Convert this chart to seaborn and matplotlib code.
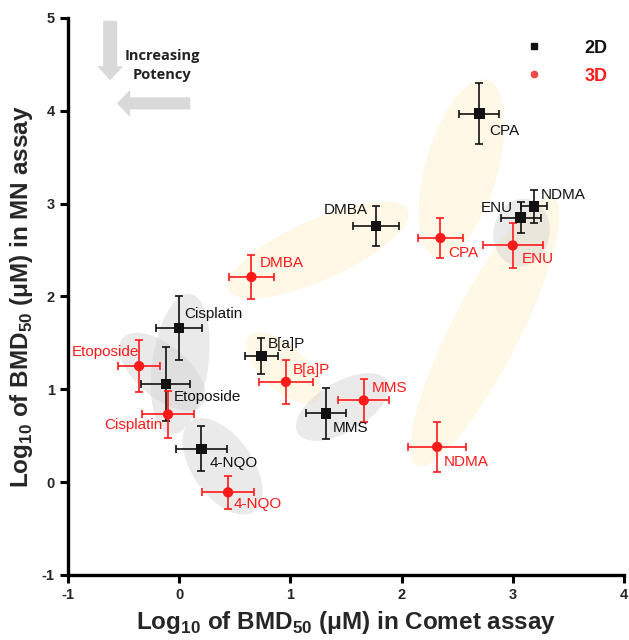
import numpy as np
import pandas as pd
import matplotlib
matplotlib.use("Agg")
import matplotlib.pyplot as plt
from matplotlib.lines import Line2D
from matplotlib.patches import FancyArrow
import seaborn as sns

# log10 BMD50 values (uM), comet (x) vs micronucleus (y)
compounds = ["CPA", "DMBA", "ENU", "NDMA", "Cisplatin", "Etoposide", "4-NQO", "B[a]P", "MMS"]

comet_2d = [2.70, 1.77, 3.07, 3.19, 0.00, -0.12, 0.20, 0.74, 1.32]
comet_2d_err = [0.18, 0.21, 0.18, 0.12, 0.21, 0.22, 0.23, 0.15, 0.18]
mn_2d = [3.97, 2.76, 2.85, 2.97, 1.66, 1.06, 0.36, 1.36, 0.74]
mn_2d_err = [0.33, 0.22, 0.17, 0.18, 0.34, 0.40, 0.24, 0.19, 0.27]

comet_3d = [2.35, 0.65, 3.00, 2.32, -0.10, -0.36, 0.44, 0.96, 1.66]
comet_3d_err = [0.20, 0.20, 0.27, 0.26, 0.23, 0.19, 0.23, 0.24, 0.23]
mn_3d = [2.63, 2.21, 2.55, 0.38, 0.73, 1.25, -0.11, 1.08, 0.88]
mn_3d_err = [0.22, 0.24, 0.24, 0.27, 0.25, 0.28, 0.18, 0.24, 0.23]

# label offsets (pixels) and alignment
lab_2d = {"CPA": (10, -17, "left"), "DMBA": (-8, 16, "right"), "ENU": (-8, 10, "right"),
          "NDMA": (7, 11, "left"), "Cisplatin": (5, 14, "left"), "Etoposide": (8, -13, "left"),
          "4-NQO": (8, -14, "left"), "B[a]P": (6, 12, "left"), "MMS": (7, -15, "left")}
lab_3d = {"CPA": (8, -15, "left"), "DMBA": (8, 14, "left"), "ENU": (9, -14, "left"),
          "NDMA": (7, -15, "left"), "Cisplatin": (-6, -11, "right"), "Etoposide": (0, 14, "right"),
          "4-NQO": (6, -12, "left"), "B[a]P": (7, 12, "left"), "MMS": (8, 12, "left")}

# grouping ellipses: centre (data), semi-axes (px), angle (deg), kind
ellipses = [
    (2.54, 3.38, 92, 36, 74, "y"),
    (1.25, 2.50, 98, 30, 24, "y"),
    (2.75, 1.62, 150, 34, 63, "y"),
    (0.94, 1.23, 47, 22, -43, "y"),
    (0.01, 1.27, 71, 28, 82, "g"),
    (-0.15, 1.19, 52, 26, -40, "g"),
    (0.39, 0.17, 55, 30, -55, "g"),
    (1.47, 0.81, 52, 25, 30, "g"),
    (3.08, 2.69, 34, 28, 80, "g"),
]

BLACK = "#111111"
RED = "#FF1A1A"
PX_X, PX_Y = 111.2, 92.8

df = pd.concat([
    pd.DataFrame({"compound": compounds, "comet": comet_2d, "mn": mn_2d, "model": "2D"}),
    pd.DataFrame({"compound": compounds, "comet": comet_3d, "mn": mn_3d, "model": "3D"}),
], ignore_index=True)

sns.set_style("ticks")
plt.rcParams["font.family"] = ["Liberation Sans", "DejaVu Sans"]
plt.rcParams["mathtext.fontset"] = "custom"
plt.rcParams["mathtext.rm"] = "Liberation Sans"
plt.rcParams["mathtext.bf"] = "Liberation Sans:bold"
plt.rcParams["axes.unicode_minus"] = False

fig = plt.figure(figsize=(6.29, 6.40), dpi=100)
ax = fig.add_axes([0.108, 0.1016, 0.884, 0.8703])

t = np.linspace(0, 2 * np.pi, 200)
for cx, cy, a, b, ang, kind in ellipses:
    th = np.deg2rad(ang)
    ex = a * np.cos(t) * np.cos(th) - b * np.sin(t) * np.sin(th)
    ey = a * np.cos(t) * np.sin(th) + b * np.sin(t) * np.cos(th)
    if kind == "y":
        ax.fill(cx + ex / PX_X, cy + ey / PX_Y, color="#FFF8E6", lw=0, zorder=0)
    else:
        ax.fill(cx + ex / PX_X, cy + ey / PX_Y, color="#D2D2D2", alpha=0.45, lw=0, zorder=1)

ax.errorbar(comet_2d, mn_2d, xerr=comet_2d_err, yerr=mn_2d_err, fmt="none",
            ecolor=BLACK, elinewidth=1.2, capsize=3, capthick=1.2, zorder=3)
ax.errorbar(comet_3d, mn_3d, xerr=comet_3d_err, yerr=mn_3d_err, fmt="none",
            ecolor=RED, elinewidth=1.2, capsize=3, capthick=1.2, zorder=3)

sns.scatterplot(data=df, x="comet", y="mn", hue="model", style="model",
                palette={"2D": BLACK, "3D": RED}, markers={"2D": "s", "3D": "o"},
                s=55, linewidth=0, legend=False, ax=ax, zorder=4)

for i, name in enumerate(compounds):
    dx, dy, ha = lab_2d[name]
    ax.annotate(name, (comet_2d[i], mn_2d[i]), xytext=(dx, dy), textcoords="offset pixels",
                ha=ha, va="center", fontsize=11, color=BLACK, zorder=5)
    dx, dy, ha = lab_3d[name]
    ax.annotate(name, (comet_3d[i], mn_3d[i]), xytext=(dx, dy), textcoords="offset pixels",
                ha=ha, va="center", fontsize=11, color=RED, zorder=5)

# potency arrows
ax.add_patch(FancyArrow(-0.62, 4.97, 0, -0.64, width=0.126, head_width=0.234,
                        head_length=0.15, length_includes_head=True,
                        color="#D9D9D9", lw=0, zorder=2))
ax.add_patch(FancyArrow(0.10, 4.08, -0.66, 0, width=0.13, head_width=0.29,
                        head_length=0.12, length_includes_head=True,
                        color="#D9D9D9", lw=0, zorder=2))
ax.text(-0.15, 4.49, "Increasing\nPotency", ha="center", va="center", fontsize=10.5,
        fontweight="bold", family=["Open Sans", "DejaVu Sans"], linespacing=1.45, color="#222222")

handles = [Line2D([], [], marker="s", ls="none", color=BLACK, markersize=4.5),
           Line2D([], [], marker="o", ls="none", color="#F04848", markersize=4.5)]
leg = ax.legend(handles, ["2D", "3D"], loc="upper right", bbox_to_anchor=(1.0, 0.99),
                frameon=False, handletextpad=1.8, labelspacing=0.6,
                prop={"weight": "bold", "size": 13})
for txt, c in zip(leg.get_texts(), [BLACK, RED]):
    txt.set_color(c)

ax.set_xlim(-1, 4)
ax.set_ylim(-1, 5)
ax.set_xticks(range(-1, 5))
ax.set_yticks(range(-1, 6))
sns.despine(ax=ax)
for s in ["left", "bottom"]:
    ax.spines[s].set_linewidth(2.4)
    ax.spines[s].set_color("black")
ax.tick_params(width=2.2, length=6, labelsize=10.5, color="black")
for lab in ax.get_xticklabels() + ax.get_yticklabels():
    lab.set_fontweight("bold")

ax.set_xlabel(r"Log$_{\mathbf{10}}$ of BMD$_{\mathbf{50}}$ (μM) in Comet assay",
              fontsize=17.5, fontweight="bold", labelpad=5)
ax.set_ylabel(r"Log$_{\mathbf{10}}$ of BMD$_{\mathbf{50}}$ (μM) in MN assay",
              fontsize=17.5, fontweight="bold", labelpad=5)

fig.savefig("out.png", dpi=100)
